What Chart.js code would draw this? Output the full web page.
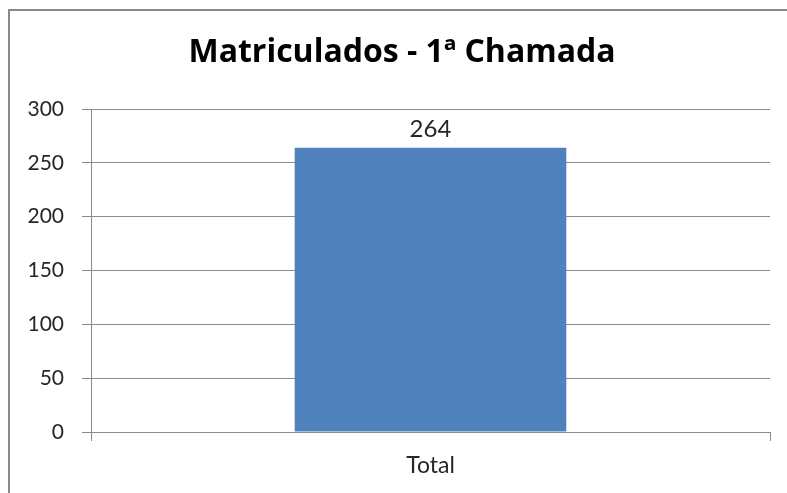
<!DOCTYPE html>
<html>
<head>
<meta charset="utf-8">
<script src="https://cdn.jsdelivr.net/npm/chart.js@4"></script>
<style>
  html, body { margin: 0; padding: 0; background: #fff; }
  #wrap { width: 787px; height: 493px; }
</style>
</head>
<body>
<div id="wrap"><canvas id="grafico" width="787" height="493"></canvas></div>
<script>
// dados do gráfico
let titulo = 'Matriculados - 1ª Chamada';
let categorias = ['Total'];
let matriculados = [264];
let ticksY = [0, 50, 100, 150, 200, 250, 300];

let corGrade = '#8c8c8c';
let fonte = 'Lato, "Open Sans", sans-serif';

// moldura do gráfico (borda esquerda e superior) + título
const moldura = {
    id: 'moldura',
    afterDraw(chart) {
        let ctx = chart.ctx;
        ctx.save();
        ctx.strokeStyle = '#898989';
        ctx.lineWidth = 2;
        ctx.beginPath();
        ctx.moveTo(9, 493);
        ctx.lineTo(9, 10);
        ctx.lineTo(787, 10);
        ctx.stroke();

        ctx.fillStyle = '#000';
        ctx.font = 'bold 32px "Open Sans", sans-serif';
        ctx.textAlign = 'center';
        ctx.textBaseline = 'alphabetic';
        ctx.fillText(titulo, 402, 62);
        ctx.restore();
    }
};

// rótulo de valor acima da barra
const rotulos = {
    id: 'rotulos',
    afterDatasetsDraw(chart) {
        let ctx = chart.ctx;
        let meta = chart.getDatasetMeta(0);
        ctx.save();
        ctx.fillStyle = '#262626';
        ctx.font = '24px ' + fonte;
        ctx.textAlign = 'center';
        ctx.textBaseline = 'alphabetic';
        meta.data.forEach(function(barra, i) {
            ctx.fillText(matriculados[i], barra.x, barra.y - 11);
        });
        ctx.restore();
    }
};

new Chart(document.getElementById('grafico'), {
    type: 'bar',
    data: {
        labels: categorias,
        datasets: [{
            data: matriculados,
            backgroundColor: '#4f81bd',
            barPercentage: 0.4,
            categoryPercentage: 1.0
        }]
    },
    options: {
        responsive: false,
        animation: false,
        layout: { padding: { left: 0, right: 17, top: 109, bottom: 0 } },
        plugins: {
            legend: { display: false },
            tooltip: { enabled: false },
            title: { display: false }
        },
        scales: {
            y: {
                min: 0,
                max: 300,
                afterBuildTicks(axis) { axis.ticks = ticksY.map(v => ({ value: v })); },
                afterFit(axis) { axis.width = 91; },
                grid: { color: corGrade, tickLength: 9, lineWidth: 1 },
                border: { color: corGrade },
                ticks: { color: '#262626', padding: 18, font: { family: fonte, size: 21 } }
            },
            x: {
                afterFit(axis) { axis.height = 61; },
                grid: { color: corGrade, drawOnChartArea: false, tickLength: 9, offset: true },
                border: { color: corGrade },
                ticks: { color: '#262626', padding: 11, font: { family: fonte, size: 23 } }
            }
        }
    },
    plugins: [moldura, rotulos]
});
</script>
</body>
</html>
